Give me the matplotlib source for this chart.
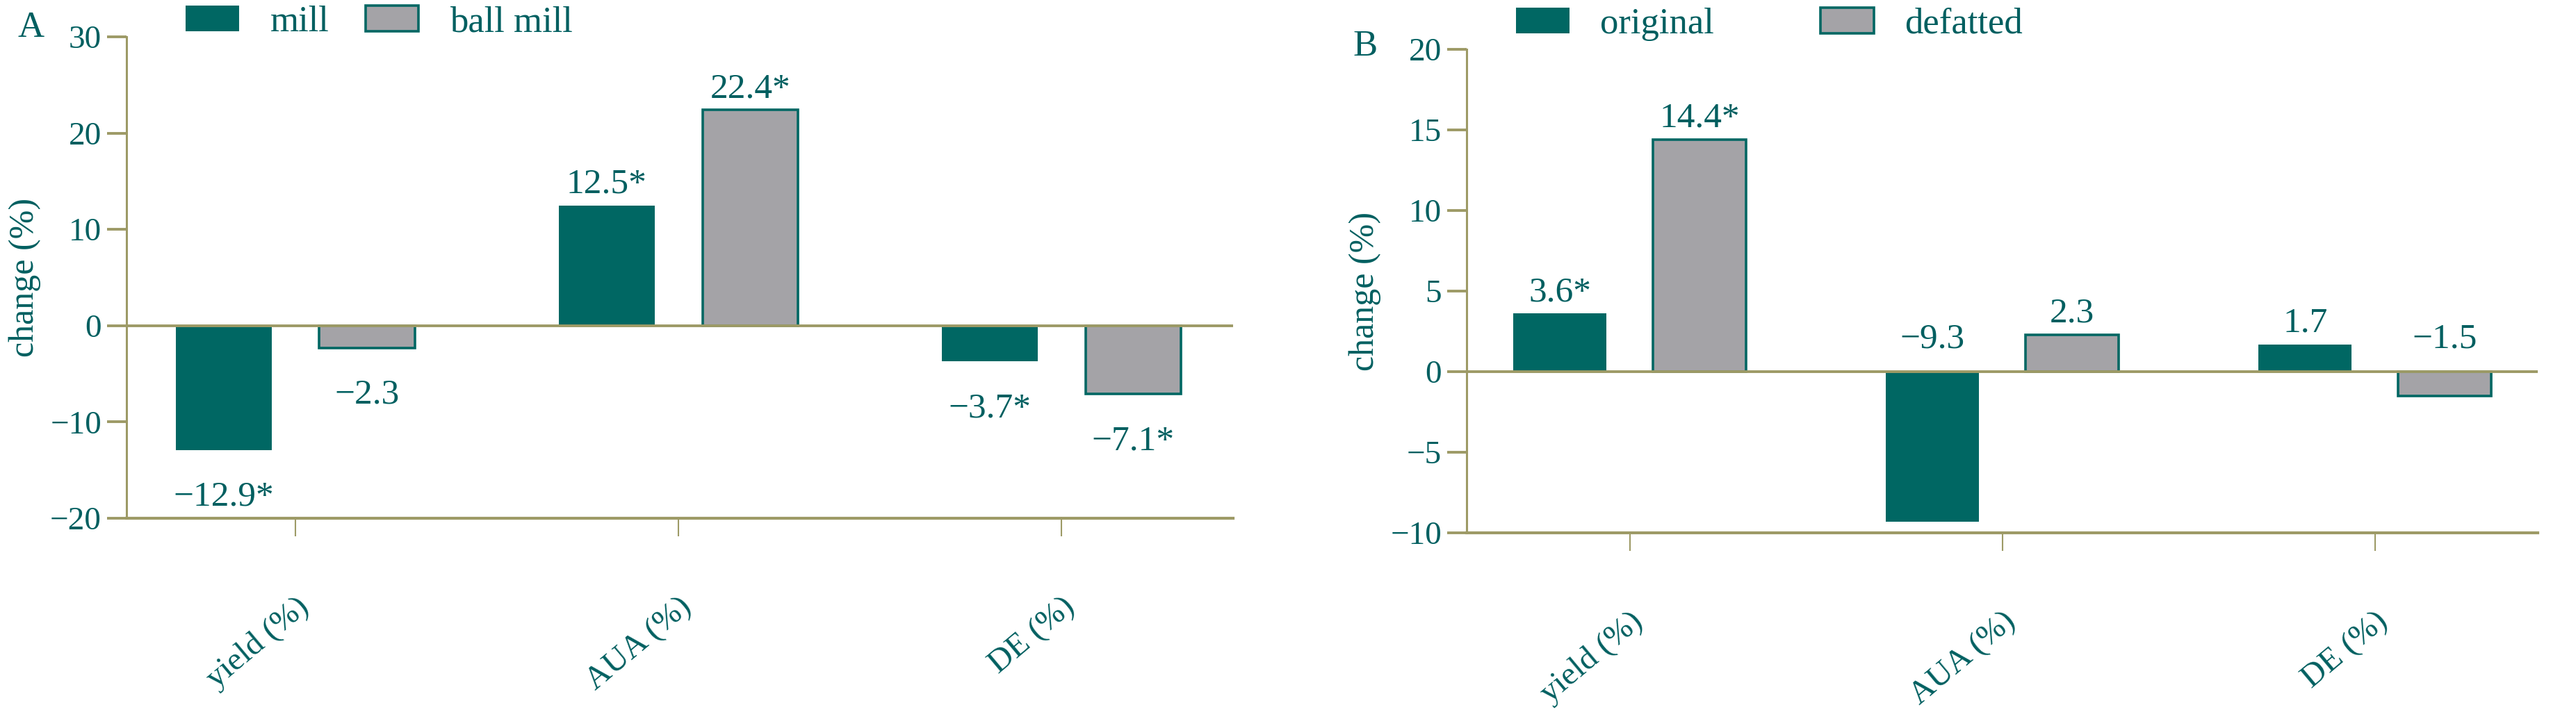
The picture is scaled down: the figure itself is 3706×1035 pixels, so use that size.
import matplotlib.pyplot as plt
import numpy as np
from matplotlib.patches import Patch

categories = ["yield (%)", "AUA (%)", "DE (%)"]

# panel A
a_series = ["mill", "ball mill"]
a_mill = [-12.9, 12.5, -3.7]
a_ball = [-2.3, 22.4, -7.1]
a_mill_sig = [True, True, True]
a_ball_sig = [False, True, True]
a_yticks = [-20, -10, 0, 10, 20, 30]

# panel B
b_series = ["original", "defatted"]
b_orig = [3.6, -9.3, 1.7]
b_defat = [14.4, 2.3, -1.5]
b_orig_sig = [True, False, False]
b_defat_sig = [True, False, False]
b_yticks = [-10, -5, 0, 5, 10, 15, 20]

TEAL = "#006763"
TEXT = "#005f60"
GRAY = "#a4a3a7"
OLIVE = "#9d9a66"
FS = 34
FS_VAL = 37
FS_LEG = 38

plt.rcParams["font.family"] = ["Liberation Serif", "DejaVu Serif"]
plt.rcParams["text.color"] = TEXT
plt.rcParams["axes.labelcolor"] = TEXT

W, H = 3706, 1035
fig = plt.figure(figsize=(W / 100, H / 100), dpi=100)


def fmt(v, sig):
    s = f"{v:.1f}".replace("-", "\u2212")
    return s + ("*" if sig else "")


def panel(rect, xlim, first, second, first_sig, second_sig, yticks, neg_above, label_x):
    ax = fig.add_axes(rect)
    x = np.arange(len(categories))
    off, w = 0.1875, 0.25
    b1 = ax.bar(x - off, first, w, color=TEAL, linewidth=0, zorder=2)
    b2 = ax.bar(x + off, second, w, color=GRAY, edgecolor=TEAL, linewidth=2.6, zorder=2)
    ax.axhline(0, color=OLIVE, lw=2.8, zorder=3)

    for bars, vals, sigs in ((b1, first, first_sig), (b2, second, second_sig)):
        for rect_, v, s in zip(bars, vals, sigs):
            cx = rect_.get_x() + rect_.get_width() / 2
            if v >= 0:
                ax.annotate(fmt(v, s), (cx, v), xytext=(0, 5), textcoords="offset points",
                            ha="center", va="bottom", fontsize=FS_VAL, color=TEXT)
            elif neg_above:
                ax.annotate(fmt(v, s), (cx, 0), xytext=(0, 17), textcoords="offset points",
                            ha="center", va="bottom", fontsize=FS_VAL, color=TEXT)
            else:
                ax.annotate(fmt(v, s), (cx, v), xytext=(0, -32), textcoords="offset points",
                            ha="center", va="top", fontsize=FS_VAL, color=TEXT)

    ax.set_xlim(*xlim)
    ax.set_ylim(yticks[0], yticks[-1])
    ax.set_yticks(yticks)
    ax.set_xticks(x)
    ax.set_xticklabels(categories, rotation=40, ha="right", va="top", rotation_mode="anchor")
    for sp in ("top", "right"):
        ax.spines[sp].set_visible(False)
    ax.spines["left"].set_color(OLIVE)
    ax.spines["left"].set_linewidth(2.2)
    ax.spines["bottom"].set_color(OLIVE)
    ax.spines["bottom"].set_linewidth(3.0)
    ax.tick_params(axis="y", colors=OLIVE, labelcolor=TEXT, labelsize=FS,
                   length=20, width=2.8, pad=6)
    ax.tick_params(axis="x", colors=OLIVE, labelcolor=TEXT, labelsize=FS,
                   length=19, width=1.5, pad=57)
    ax.set_ylabel("change (%)", fontsize=36)
    ax.yaxis.set_label_coords(label_x, 0.5)
    return ax


ax_a = panel([182 / W, 1 - 746 / H, (1774 - 182) / W, (746 - 53) / H], (-0.441, 2.448),
             a_mill, a_ball, a_mill_sig, a_ball_sig, a_yticks, neg_above=False, label_x=-0.077)
ax_b = panel([2110 / W, 1 - 767 / H, (3651 - 2110) / W, (767 - 71) / H], (-0.438, 2.437),
             b_orig, b_defat, b_orig_sig, b_defat_sig, b_yticks, neg_above=True, label_x=-0.080)

fig.text(25 / W, 1 - 53 / H, "A", fontsize=38, ha="left", va="baseline")
fig.text(1946 / W, 1 - 80 / H, "B", fontsize=38, ha="left", va="baseline")


def legend(names, x_px, y_px, colspace):
    handles = [Patch(facecolor=TEAL, edgecolor=TEAL, linewidth=0),
               Patch(facecolor=GRAY, edgecolor=TEAL, linewidth=2.6)]
    fig.legend(handles, names, loc="center left", bbox_to_anchor=(x_px / W, 1 - y_px / H),
               ncol=2, frameon=False, fontsize=FS_LEG, handlelength=1.45, handleheight=0.7,
               handletextpad=0.85, columnspacing=colspace, borderpad=0, borderaxespad=0,
               labelcolor=TEXT)


legend(a_series, 267, 32, 1.0)
legend(b_series, 2181, 35, 2.9)

fig.savefig("out.png", dpi=100)
